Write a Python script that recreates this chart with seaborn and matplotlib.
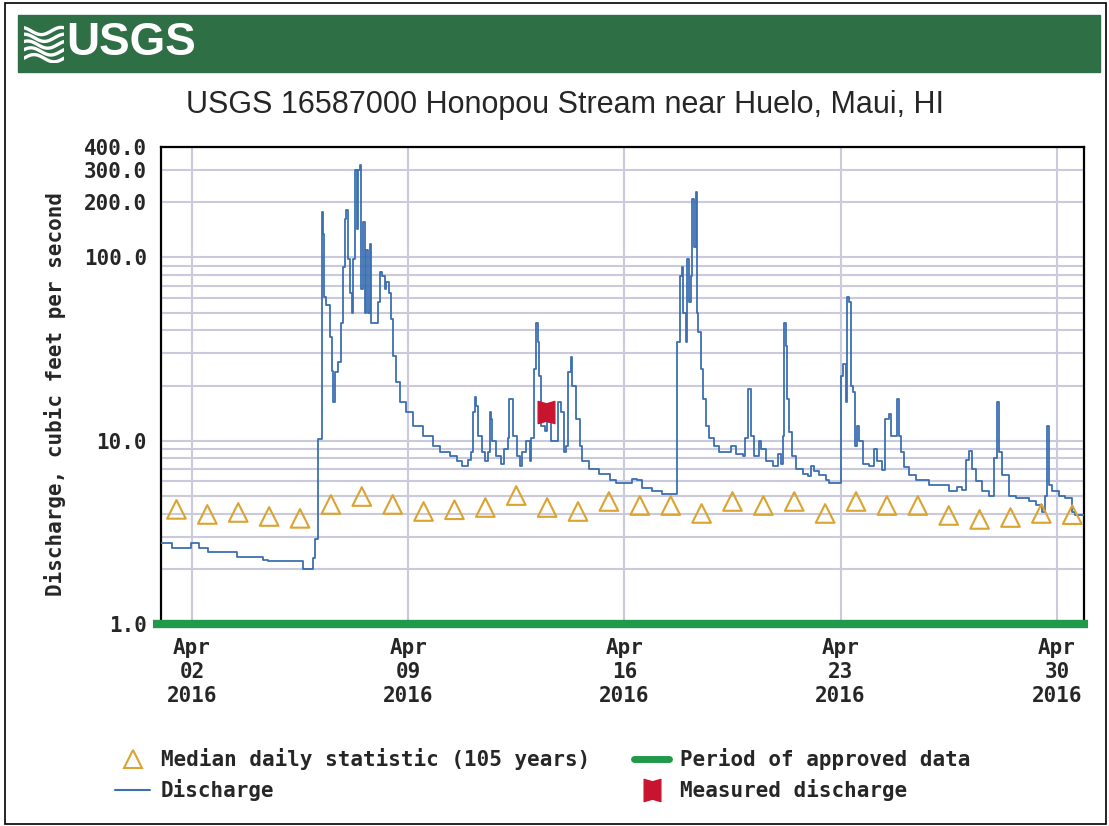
import numpy as np
import pandas as pd
import matplotlib
matplotlib.use("Agg")
import matplotlib.pyplot as plt
import matplotlib.dates as mdates
import matplotlib.ticker as mticker
from matplotlib.path import Path
from matplotlib.lines import Line2D
from matplotlib.patches import Rectangle
import seaborn as sns

# discharge (15-min gage record), day-of-April as float
dis_day = [1.00, 1.36, 1.97, 2.23, 2.52, 3.46, 4.30, 4.46, 5.59, 5.91, 5.98, 6.08,
           6.20, 6.24, 6.27, 6.33, 6.46, 6.52, 6.56, 6.63, 6.72, 6.84, 6.88, 6.95,
           7.00, 7.05, 7.11, 7.17, 7.21, 7.27, 7.33, 7.37, 7.43, 7.49, 7.53, 7.60,
           7.65, 7.69, 7.76, 7.81, 8.02, 8.08, 8.17, 8.24, 8.30, 8.37, 8.46, 8.50,
           8.62, 8.73, 8.94, 9.15, 9.47, 9.79, 10.02, 10.34, 10.57, 10.76, 10.93,
           11.05, 11.09, 11.15, 11.21, 11.25, 11.38, 11.48, 11.57, 11.64, 11.69,
           11.73, 11.86, 12.02, 12.12, 12.22, 12.28, 12.38, 12.51, 12.61, 12.70,
           12.83, 12.93, 12.99, 13.06, 13.15, 13.19, 13.25, 13.31, 13.42, 13.51,
           13.63, 13.84, 13.96, 14.06, 14.12, 14.19, 14.26, 14.32, 14.44, 14.55,
           14.64, 14.87, 15.19, 15.52, 15.74, 16.26, 16.42, 16.58, 16.91, 17.23,
           17.72, 17.80, 17.87, 17.91, 18.00, 18.04, 18.10, 18.16, 18.20, 18.26,
           18.32, 18.34, 18.40, 18.48, 18.53, 18.64, 18.75, 18.91, 19.07, 19.45,
           19.61, 19.83, 19.91, 19.99, 20.10, 20.20, 20.37, 20.42, 20.58, 20.80,
           20.96, 21.07, 21.12, 21.17, 21.23, 21.25, 21.34, 21.44, 21.55, 21.77,
           21.93, 22.04, 22.14, 22.31, 22.52, 22.63, 22.95, 23.01, 23.08, 23.17,
           23.22, 23.28, 23.33, 23.41, 23.47, 23.54, 23.60, 23.71, 23.92, 24.08,
           24.19, 24.35, 24.44, 24.57, 24.62, 24.84, 24.89, 24.95, 25.05, 25.22,
           25.43, 25.86, 26.51, 26.78, 26.94, 27.05, 27.16, 27.24, 27.37, 27.59,
           27.80, 27.96, 28.07, 28.13, 28.23, 28.45, 28.67, 29.10, 29.31, 29.53,
           29.61, 29.69, 29.74, 29.85, 30.07, 30.28, 30.50, 30.58, 30.90]
dis_q = [2.75, 2.60, 2.75, 2.60, 2.46, 2.31, 2.24, 2.20, 1.99, 2.30, 2.90, 10.2,
         176, 134, 61, 55, 37, 24, 16.3, 23.7, 27, 44, 89, 161,
         182, 98, 64, 50, 98, 300, 142, 300, 320, 67, 155, 50,
         110, 50, 118, 44, 57, 83, 79, 67, 73, 64, 46, 29,
         21, 16.3, 14.4, 12.1, 10.6, 9.4, 8.7, 8.2, 7.7, 7.3, 7.8,
         8.7, 14.4, 17.3, 15.5, 10.6, 8.7, 7.7, 8.7, 14.4, 13.2,
         9.9, 8.3, 7.5, 9.0, 10.3, 16.9, 10.6, 8.3, 7.3, 8.7,
         9.9, 7.7, 10.3, 24.6, 44, 34.5, 22.5, 12.1, 11.3, 12.7,
         9.9, 16.3, 14.4, 8.7, 9.4, 23.7, 28.6, 20, 13.2, 9.4,
         7.7, 7.05, 6.6, 6.1, 5.85, 6.2, 6.1, 5.5, 5.3, 5.1,
         34.5, 79, 89, 50, 34.5, 98, 57, 79, 207, 114,
         226, 50, 39, 24.6, 16.9, 12.1, 10.3, 9.4, 8.7, 9.3,
         8.5, 8.2, 10.3, 19.2, 10.6, 8.3, 10.0, 9.05, 7.7, 7.3,
         8.5, 7.5, 10.6, 44, 33, 16.9, 11.1, 8.3, 7.05, 6.6,
         6.4, 7.3, 6.8, 6.5, 6.1, 5.85, 5.9, 22.5, 26.2, 16.3,
         60.5, 57, 20, 18.4, 9.4, 12.1, 9.9, 7.5, 7.3, 9.05,
         7.7, 6.9, 13.2, 14.0, 10.6, 16.9, 10.6, 8.7, 7.2, 6.5,
         6.1, 5.7, 5.3, 5.6, 5.4, 7.8, 8.8, 7.05, 6.0, 5.3,
         5.0, 8.0, 16.3, 8.7, 6.5, 5.0, 4.84, 4.66, 4.45, 4.1,
         5.0, 12.1, 5.7, 5.3, 5.0, 4.84, 4.1, 3.93, 3.93]

# median daily statistic (105 years), one per day Apr 1 - Apr 30
median_q = [4.22, 3.96, 4.06, 3.86, 3.77, 4.49, 4.96, 4.49, 4.11, 4.20,
            4.32, 5.02, 4.32, 4.11, 4.66, 4.43, 4.43, 4.01, 4.66, 4.43,
            4.66, 4.01, 4.66, 4.43, 4.43, 3.91, 3.72, 3.81, 4.01, 3.95]

meas_day = [13.46]
meas_q = [14.4]

approved_day = [0.75, 31.0]  # approved period spans the whole window

tick_dates = ["2016-04-02", "2016-04-09", "2016-04-16", "2016-04-23", "2016-04-30"]
y_major = [1, 10, 100, 200, 300, 400]

t0 = pd.Timestamp("2016-04-01")
def to_time(days):
    return t0 + pd.to_timedelta(np.asarray(days, dtype=float) - 1, unit="D")

dis = pd.DataFrame({"time": to_time(dis_day), "q": dis_q})
med = pd.DataFrame({"time": pd.date_range("2016-04-01 12:00", periods=30, freq="D"),
                    "q": median_q})
meas = pd.DataFrame({"time": to_time(meas_day), "q": meas_q})

BLUE = "#3b6fb2"
GOLD = "#dba330"
GREEN = "#21994a"
RED = "#c8142f"
GRID = "#cacadc"

sns.set_theme(style="white")
plt.rcParams["font.family"] = ["DejaVu Sans Mono", "DejaVu Sans"]
plt.rcParams["font.weight"] = "bold"
FS = 15

W, H = 1109, 826
fig = plt.figure(figsize=(W / 100, H / 100), dpi=100, facecolor="white")
ax = fig.add_axes([161 / W, 1 - 624 / H, (1084 - 161) / W, (624 - 147) / H])

spool = Path([(-0.75, -1), (0, -0.78), (0.75, -1), (0.75, 1), (0, 0.78), (-0.75, 1), (-0.75, -1)],
             [Path.MOVETO] + [Path.LINETO] * 5 + [Path.CLOSEPOLY])

sns.lineplot(data=dis, x="time", y="q", ax=ax, color=BLUE, lw=1.3,
             drawstyle="steps-post", estimator=None, zorder=3)
sns.scatterplot(data=med, x="time", y="q", ax=ax, marker="^", s=180,
                facecolor="none", edgecolor=GOLD, linewidth=1.5, zorder=4)
ax.plot(meas["time"], meas["q"], ls="none", marker=spool, ms=16, color=RED, zorder=5)
ax.plot(to_time(approved_day), [1.0, 1.0], color=GREEN, lw=6, solid_capstyle="butt",
        clip_on=False, zorder=6)

ax.set_yscale("log")
ax.set_ylim(1, 400)
ax.set_xlim(t0, t0 + pd.Timedelta(days=29.88))
ax.yaxis.set_major_locator(mticker.FixedLocator(y_major))
ax.yaxis.set_major_formatter(mticker.FuncFormatter(lambda v, p: f"{v:.1f}"))
ax.yaxis.set_minor_locator(mticker.LogLocator(base=10, subs=np.arange(2, 10)))
ax.yaxis.set_minor_formatter(mticker.NullFormatter())
ax.xaxis.set_major_locator(mticker.FixedLocator(mdates.date2num(pd.to_datetime(tick_dates))))
ax.xaxis.set_major_formatter(mdates.DateFormatter("%b\n%d\n%Y"))

ax.grid(True, which="both", axis="y", color=GRID, lw=1.5)
ax.grid(True, which="major", axis="x", color=GRID, lw=1.5)
ax.tick_params(axis="both", which="both", length=0, labelsize=FS, pad=10)
for t in ax.get_xticklabels():
    t.set_linespacing(1.25)
for s in ax.spines.values():
    s.set_color("black")
    s.set_linewidth(1.6)
ax.set_xlabel("")
ax.set_ylabel("")
ax.set_facecolor("white")

fig.text(55 / W, 1 - 394 / H, "Discharge, cubic feet per second", rotation=90,
         ha="center", va="center", fontsize=FS)
fig.text(565 / W, 1 - 105 / H, "USGS 16587000 Honopou Stream near Huelo, Maui, HI",
         ha="center", va="center", fontsize=22, fontweight="normal",
         family=["Liberation Sans", "DejaVu Sans"])

# header bar with logo
fig.patches.append(Rectangle((18 / W, 1 - 72 / H), (1100 - 18) / W, 57 / H,
                             transform=fig.transFigure, color="#2f6f45", zorder=0))
fig.text(66 / W, 1 - 43 / H, "USGS", color="white", fontsize=33, fontweight="bold",
         ha="left", va="center", zorder=3,
         family=["Liberation Sans Narrow", "Liberation Sans", "DejaVu Sans"])
lax = fig.add_axes([24 / W, 1 - 63 / H, 40 / W, 40 / H])
lax.set_zorder(3)
lax.set_axis_off()
xx = np.linspace(0, 1, 60)
for k in range(5):
    lax.plot(xx, 0.12 + 0.17 * k + 0.09 * np.sin(2 * np.pi * xx + 0.5 * k), color="white", lw=2.4)
lax.set_xlim(0, 1)
lax.set_ylim(0, 1)

# outer frame
fig.patches.append(Rectangle((5 / W, 2 / H), 1101 / W, 821 / H, transform=fig.transFigure,
                             fill=False, edgecolor="black", lw=1.2))

handles = [
    Line2D([], [], ls="none", marker="^", ms=13, mfc="none", mec=GOLD, mew=1.5),
    Line2D([], [], color=BLUE, lw=1.5),
    Line2D([], [], color=GREEN, lw=5),
    Line2D([], [], ls="none", marker=spool, ms=16, color=RED),
]
labels = ["Median daily statistic (105 years)", "Discharge",
          "Period of approved data", "Measured discharge"]
fig.legend(handles, labels, ncol=2, loc="upper left", bbox_to_anchor=(115 / W, 1 - 748 / H),
           frameon=False, fontsize=FS, handlelength=1.7, handletextpad=0.5,
           columnspacing=2.1, labelspacing=0.45, borderpad=0, borderaxespad=0)

fig.savefig("out.png", dpi=100, facecolor="white")
